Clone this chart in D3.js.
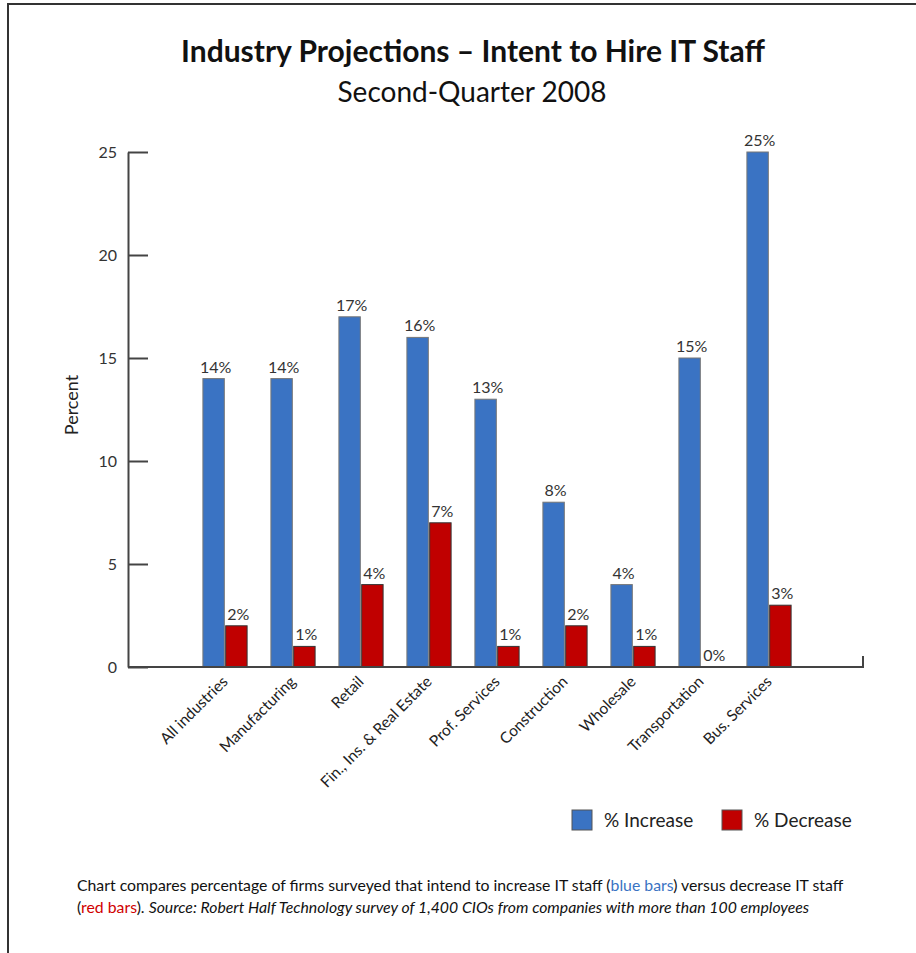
<!DOCTYPE html>
<html>
<head>
<meta charset="utf-8">
<script src="https://cdn.jsdelivr.net/npm/d3@7"></script>
<style>
  body { margin: 0; background: #fff; }
  svg { display: block; font-family: Lato, "Open Sans", sans-serif; }
</style>
</head>
<body>
<div id="chart"></div>
<script>
// datos
const categories = ["All industries", "Manufacturing", "Retail", "Fin., Ins. & Real Estate",
  "Prof. Services", "Construction", "Wholesale", "Transportation", "Bus. Services"];
const increase = [14, 14, 17, 16, 13, 8, 4, 15, 25];
const decrease = [2, 1, 4, 7, 1, 2, 1, 0, 3];
const seriesNames = ["% Increase", "% Decrease"];
const yTicks = [0, 5, 10, 15, 20, 25];

const W = 916, H = 953;
const blue = "#3a73c3", red = "#c00000";

const svg = d3.select("#chart").append("svg")
    .attr("width", W)
    .attr("height", H);

// marco
svg.append("path")
    .attr("d", `M8,953 V4 H916`)
    .attr("fill", "none")
    .attr("stroke", "#333")
    .attr("stroke-width", 2);

// titulos
svg.append("text")
    .attr("x", 473).attr("y", 62)
    .attr("text-anchor", "middle")
    .attr("font-size", 30).attr("font-weight", "bold")
    .attr("fill", "#111")
    .text("Industry Projections – Intent to Hire IT Staff");

svg.append("text")
    .attr("x", 472).attr("y", 102)
    .attr("text-anchor", "middle")
    .attr("font-size", 28)
    .attr("fill", "#111")
    .text("Second-Quarter 2008");

// escalas
const y = d3.scaleLinear().domain([0, 25]).range([667, 152]);
const x0 = d3.scaleBand().domain(categories).range([191, 803])
    .paddingInner(0.35).paddingOuter(0.175);
const x1 = d3.scaleBand().domain(seriesNames).range([0, x0.bandwidth()]).paddingInner(0.06);

const rows = categories.map((c, i) => ({
  cat: c,
  vals: [{ s: seriesNames[0], v: increase[i] }, { s: seriesNames[1], v: decrease[i] }]
}));
const color = d3.scaleOrdinal().domain(seriesNames).range([blue, red]);

// eje Y
const yAxis = svg.append("g")
    .attr("transform", "translate(128,0)")
    .call(d3.axisLeft(y).tickValues(yTicks).tickSizeInner(-20).tickSizeOuter(0).tickPadding(11));
yAxis.select(".domain").attr("stroke", "#444").attr("stroke-width", 2);
yAxis.selectAll(".tick line").attr("stroke", "#444").attr("stroke-width", 2);
yAxis.selectAll(".tick text").attr("font-size", 16).attr("fill", "#333")
    .attr("font-family", "Lato, sans-serif");

svg.append("text")
    .attr("transform", "translate(78,405) rotate(-90)")
    .attr("text-anchor", "middle")
    .attr("font-size", 18).attr("fill", "#222")
    .text("Percent");

// barras
const groups = svg.selectAll(".grp")
    .data(rows)
    .enter().append("g")
    .attr("class", "grp")
    .attr("transform", d => `translate(${x0(d.cat)},0)`);

groups.selectAll("rect")
    .data(d => d.vals.filter(v => v.v > 0))
    .enter().append("rect")
    .attr("x", d => x1(d.s))
    .attr("y", d => y(d.v))
    .attr("width", x1.bandwidth())
    .attr("height", d => y(0) - y(d.v))
    .attr("fill", d => color(d.s))
    .attr("stroke", d => d.s === seriesNames[0] ? "#777" : "#333")
    .attr("stroke-width", 1);

groups.selectAll(".val")
    .data(d => d.vals)
    .enter().append("text")
    .attr("class", "val")
    .attr("x", d => x1(d.s) + x1.bandwidth() / 2 + 2)
    .attr("y", d => y(d.v) - 6)
    .attr("text-anchor", "middle")
    .attr("font-size", 16).attr("fill", "#333")
    .text(d => d.v + "%");

// eje X
const xAxis = svg.append("g")
    .attr("transform", "translate(0,667)");
xAxis.append("path")
    .attr("d", "M128,0 H863 V-11")
    .attr("fill", "none")
    .attr("stroke", "#444").attr("stroke-width", 2);

xAxis.selectAll(".xlab")
    .data(categories)
    .enter().append("text")
    .attr("class", "xlab")
    .attr("transform", d => `translate(${x0(d) + x0.bandwidth() / 2 - 4},8) rotate(-45)`)
    .attr("text-anchor", "end")
    .attr("dy", "0.7em")
    .attr("font-size", 15.5).attr("fill", "#222")
    .text(d => d);

// leyenda
const legend = svg.append("g");
const legX = [572, 722];
seriesNames.forEach((s, i) => {
  legend.append("rect")
      .attr("x", legX[i]).attr("y", 810)
      .attr("width", 20).attr("height", 20)
      .attr("fill", color(s))
      .attr("stroke", "#555").attr("stroke-width", 1);
  legend.append("text")
      .attr("x", legX[i] + 32).attr("y", 827)
      .attr("font-size", 19).attr("fill", "#222")
      .text(s);
});

// nota al pie
const note1 = svg.append("text")
    .attr("x", 77).attr("y", 891)
    .attr("font-size", 15.8).attr("fill", "#111");
note1.append("tspan").text("Chart compares percentage of firms surveyed that intend to increase IT staff (");
note1.append("tspan").attr("fill", blue).text("blue bars");
note1.append("tspan").text(") versus decrease IT staff");

const note2 = svg.append("text")
    .attr("x", 77).attr("y", 913)
    .attr("font-size", 15.8).attr("fill", "#111");
note2.append("tspan").text("(");
note2.append("tspan").attr("fill", "#d00000").text("red bars");
note2.append("tspan").text(").  ");
note2.append("tspan").attr("font-style", "italic")
    .text("Source: Robert Half Technology survey of 1,400 CIOs from companies with more than 100 employees");
</script>
</body>
</html>
